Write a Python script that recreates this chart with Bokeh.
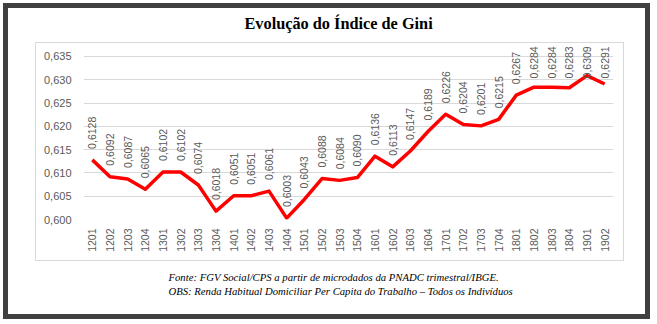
import math
from bokeh.plotting import figure
from bokeh.models import (FactorRange, Range1d, FixedTicker, CustomJSTickFormatter,
                          Title, ColumnDataSource)
from bokeh.core.properties import value
from bokeh.embed import file_html
from bokeh.resources import INLINE

quarters = ["1201", "1202", "1203", "1204", "1301", "1302", "1303", "1304",
            "1401", "1402", "1403", "1404", "1501", "1502", "1503", "1504",
            "1601", "1602", "1603", "1604", "1701", "1702", "1703", "1704",
            "1801", "1802", "1803", "1804", "1901", "1902"]
gini = [0.6128, 0.6092, 0.6087, 0.6065, 0.6102, 0.6102, 0.6074, 0.6018,
        0.6051, 0.6051, 0.6061, 0.6003, 0.6043, 0.6088, 0.6084, 0.6090,
        0.6136, 0.6113, 0.6147, 0.6189, 0.6226, 0.6204, 0.6201, 0.6215,
        0.6267, 0.6284, 0.6284, 0.6283, 0.6309, 0.6291]
y_ticks = [0.600, 0.605, 0.610, 0.615, 0.620, 0.625, 0.630, 0.635]
title_text = "Evolução do Índice de Gini"
note1 = "Fonte: FGV Social/CPS a partir de microdados da PNADC trimestral/IBGE."
note2 = "OBS: Renda Habitual Domiciliar Per Capita do Trabalho – Todos os Indivíduos"

W, H = 657, 324
FRAME_TOP, FRAME_BOTTOM = 43, 219.3
Y0, Y_TOP_TICK = 0.600, 0.635
px_per_unit = (FRAME_BOTTOM - 56.0) / (Y_TOP_TICK - Y0)
y_end = Y_TOP_TICK + (56.0 - FRAME_TOP) / px_per_unit

# labels sit above the point, but are kept inside the plot area (as Excel does)
LABEL_GAP, LABEL_LEN, LABEL_TOP = 11, 33, 45
yoff = []
for v in gini:
    pt = FRAME_BOTTOM - (v - Y0) * px_per_unit
    bottom = max(pt - LABEL_GAP, LABEL_TOP + LABEL_LEN)
    yoff.append(bottom - pt)

# canvas decoration: outer dark frame and light chart-area box (CSS, behind canvas)
def bar(color, x, y, w, h):
    return f"linear-gradient({color},{color}) {x}px {y}px / {w}px {h}px no-repeat"

bg = ", ".join([
    bar("#404040", 3, 3, 647, 5), bar("#404040", 3, 314, 647, 5),
    bar("#404040", 3, 3, 5, 316), bar("#404040", 645, 3, 5, 316),
    bar("#D9D9D9", 35, 42, 589, 1), bar("#D9D9D9", 35, 260, 589, 1),
    bar("#D9D9D9", 35, 42, 1, 219), bar("#D9D9D9", 623, 42, 1, 219),
]) + ", #FFFFFF"

p = figure(width=W, height=H, output_backend="svg", toolbar_location=None,
           x_range=FactorRange(factors=quarters, range_padding=0),
           y_range=Range1d(Y0, y_end),
           min_border_left=83, min_border_right=44, min_border_top=FRAME_TOP,
           min_border_bottom=105)
p.outline_line_color = None
p.background_fill_color = "white"
p.border_fill_color = None
p.styles = {"background": bg}

src = ColumnDataSource(dict(q=quarters, g=gini, yoff=yoff,
                            lab=[("%.4f" % v).replace(".", ",") for v in gini]))
p.line("q", "g", source=src, line_color="#FF0000", line_width=3.5, line_join="round")
p.text("q", "g", text="lab", source=src, angle=math.pi / 2, y_offset="yoff",
       text_align="left", text_baseline="middle", text_color="#595959",
       text_font=value("Liberation Sans"), text_font_size="10.5px")

p.xgrid.grid_line_color = None
p.ygrid.grid_line_color = "#D9D9D9"
p.ygrid.grid_line_width = 1

p.yaxis.ticker = FixedTicker(ticks=y_ticks)
p.yaxis.formatter = CustomJSTickFormatter(code="return tick.toFixed(3).replace('.', ',');")
for ax in (p.xaxis[0], p.yaxis[0]):
    ax.axis_line_color = None
    ax.major_tick_line_color = None
    ax.minor_tick_line_color = None
    ax.major_tick_in = 0
    ax.major_tick_out = 0
    ax.major_label_text_color = "#595959"
    ax.major_label_text_font = "Liberation Sans"
p.yaxis.major_label_text_font_size = "11px"
p.yaxis.major_label_standoff = 12
p.xaxis.major_label_orientation = math.pi / 2
p.xaxis.major_label_text_font_size = "10.5px"
p.xaxis.major_label_standoff = 9

p.title = Title(text=title_text, align="left", offset=161, standoff=22,
                text_font="Liberation Serif", text_font_style="bold",
                text_font_size="16.3px", text_color="black")
p.add_layout(Title(text=note1 + "\n" + note2, align="left", offset=85, standoff=29,
                   vertical_align="bottom", text_line_height=1.2,
                   text_font="Liberation Serif", text_font_style="italic",
                   text_font_size="10.7px", text_color="black"), "below")

open("out.html", "w").write(file_html(p, INLINE))
